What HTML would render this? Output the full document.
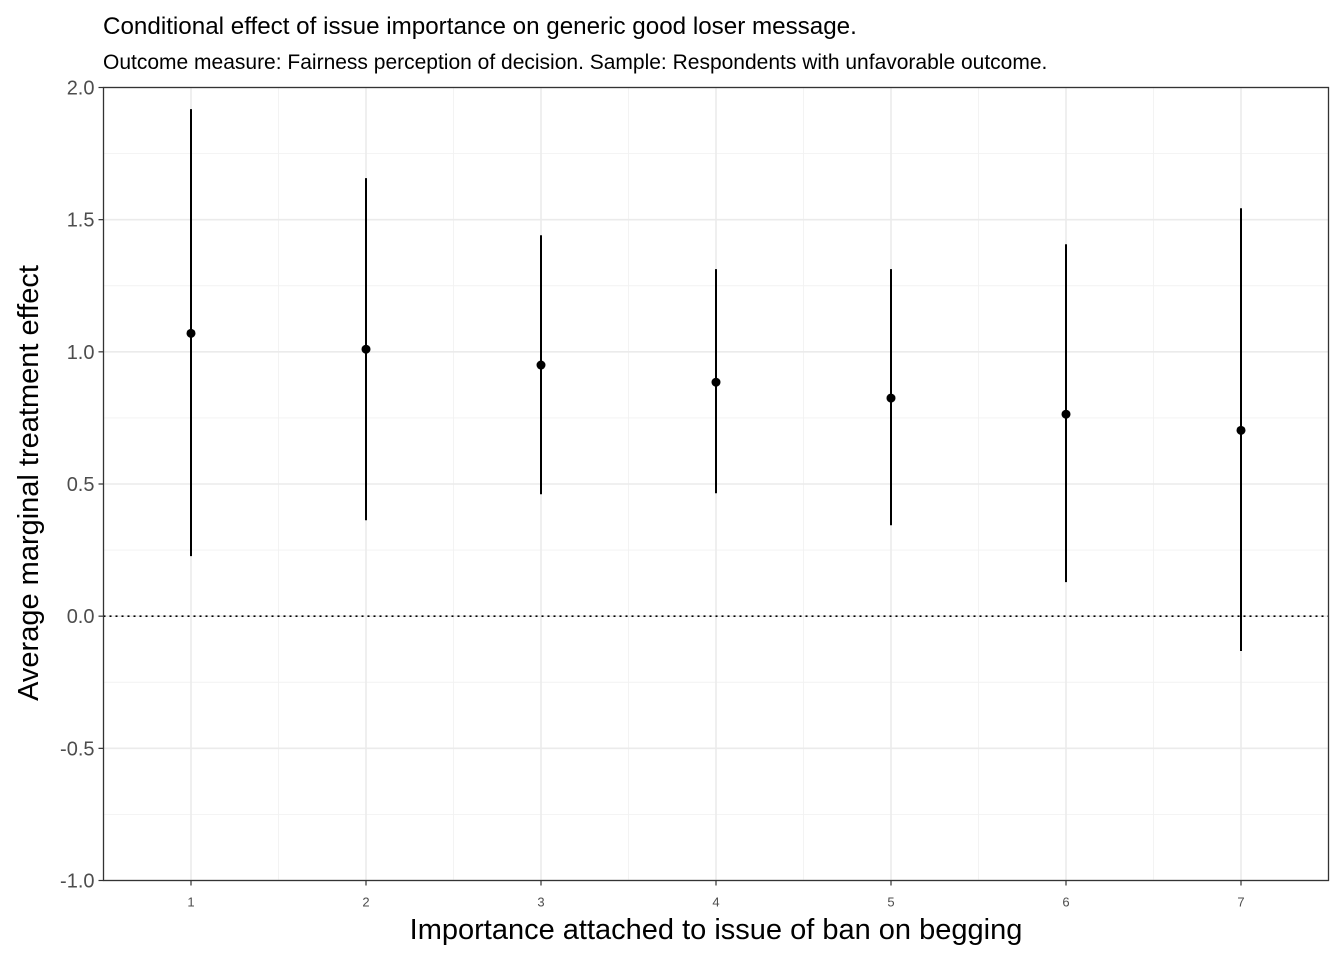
<!DOCTYPE html>
<html><head><meta charset="utf-8"><style>
html,body{margin:0;padding:0;background:#fff;}
svg text{font-family:"Liberation Sans",Arial,sans-serif;}
</style></head><body>
<svg id="chart" width="1344" height="960" xmlns="http://www.w3.org/2000/svg">
<text x="103" y="34" font-size="24.2" fill="#000">Conditional effect of issue importance on generic good loser message.</text>
<text x="103" y="69" font-size="21" fill="#000">Outcome measure: Fairness perception of decision. Sample: Respondents with unfavorable outcome.</text>
<g id="grid"></g>
<g id="marks"></g>
<rect x="103.5" y="87.5" width="1225" height="793" fill="none" stroke="#333" stroke-width="1.3"/>
<g id="axes"></g>
<text x="716" y="939" font-size="29" text-anchor="middle" fill="#000">Importance attached to issue of ban on begging</text>
<text transform="translate(38,483) rotate(-90)" font-size="29" text-anchor="middle" fill="#000">Average marginal treatment effect</text>
</svg>
<script>
const categories = [1,2,3,4,5,6,7];
const estimates = [1.07,1.01,0.95,0.885,0.825,0.764,0.703];
const lowerBounds = [0.227,0.363,0.461,0.465,0.344,0.129,-0.132];
const upperBounds = [1.918,1.657,1.441,1.313,1.313,1.407,1.543];
const yTicks = [-1,-0.5,0,0.5,1,1.5,2];
const yTickLabels = ["-1.0","-0.5","0.0","0.5","1.0","1.5","2.0"];

const NS="http://www.w3.org/2000/svg";
const L=103.5,R=1328.5,T=87.5,B=880.5;
const xMin=0.5,xMax=7.5,yMin=-1,yMax=2;
function xs(v){return L+(v-xMin)/(xMax-xMin)*(R-L);}
function ys(v){return B-(v-yMin)/(yMax-yMin)*(B-T);}
function mk(tag,attrs,parent){const e=document.createElementNS(NS,tag);for(const k in attrs)e.setAttribute(k,attrs[k]);parent.appendChild(e);return e;}
const grid=document.getElementById('grid'),marks=document.getElementById('marks'),axes=document.getElementById('axes');

for(let i=0;i<yTicks.length-1;i++){
  const v=(yTicks[i]+yTicks[i+1])/2;
  const l=mk('line',{x1:L,x2:R,y1:ys(v),y2:ys(v),stroke:'#f2f2f2','stroke-width':0.9},grid);
  
  
}
for(let i=0;i<categories.length+1;i++){
  const v=categories[0]-0.5+i;
  const l=mk('line',{x1:xs(v),x2:xs(v),y1:T,y2:B,stroke:'#f2f2f2','stroke-width':0.9},grid);
  
  
}
yTicks.forEach((v,i)=>{
  const l=mk('line',{x1:L,x2:R,y1:ys(v),y2:ys(v),stroke:'#ebebeb','stroke-width':1.6},grid);
  
  
  const t=mk('line',{x1:L-5,x2:L,y1:ys(v),y2:ys(v),stroke:'#333','stroke-width':1.2},axes);
  
  
  const tx=mk('text',{x:L-9,y:ys(v)+7,'font-size':20,'text-anchor':'end',fill:'#4d4d4d'},axes);
  tx.textContent=yTickLabels[i];
  
  
});
categories.forEach(c=>{
  const l=mk('line',{x1:xs(c),x2:xs(c),y1:T,y2:B,stroke:'#ebebeb','stroke-width':1.6},grid);
  
  
  const t=mk('line',{x1:xs(c),x2:xs(c),y1:B,y2:B+5,stroke:'#333','stroke-width':1.2},axes);
  
  
  const tx=mk('text',{x:xs(c),y:B+26,'font-size':13,'text-anchor':'middle',fill:'#4d4d4d'},axes);
  tx.textContent=String(c);
  
  
});
const zl=mk('line',{x1:L,x2:R,y1:ys(0),y2:ys(0),stroke:'#000','stroke-width':1.6,'stroke-dasharray':'2,4'},marks);


categories.forEach((c,i)=>{
  const e=mk('line',{x1:xs(c),x2:xs(c),y1:ys(lowerBounds[i]),y2:ys(upperBounds[i]),stroke:'#000','stroke-width':2},marks);
  
  
  const p=mk('circle',{cx:xs(c),cy:ys(estimates[i]),r:4.5,fill:'#000'},marks);
  
  
});
</script>
</body></html>
